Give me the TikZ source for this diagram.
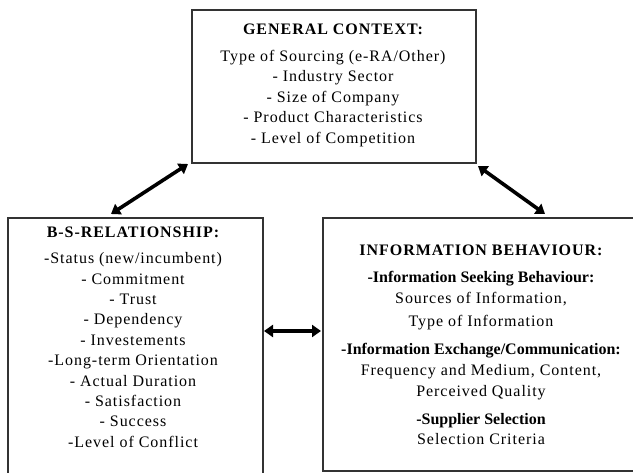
\documentclass[tikz,border=0pt]{standalone}
\usepackage{fontspec}
\setmainfont{Liberation Serif}[LetterSpace=6]
\newfontfamily\subbold{Liberation Serif}[LetterSpace=0]
\usetikzlibrary{arrows.meta}
\begin{document}
\begin{tikzpicture}[x=1pt,y=-1pt,
  box/.style={draw=black!80,line width=1.3pt,fill=none,inner sep=0pt},
  txt/.style={anchor=base,inner sep=0pt,font=\fontsize{16}{18}\selectfont},
  ttl/.style={txt,font=\fontsize{16}{18}\selectfont\bfseries},
  sub/.style={txt,font=\fontsize{16}{18}\subbold\bfseries},
  dbl/.style={line width=3.6pt,{Triangle[length=9pt,width=12pt]}-{Triangle[length=9pt,width=12pt]}}]
\useasboundingbox (0,0) rectangle (633,473);
\clip (0,0) rectangle (633,473);
% boxes
\node[box,minimum width=284pt,minimum height=153pt] (gc) at (334,86.5) {};
\node[box,minimum width=255pt,minimum height=280pt] (bs) at (135.5,358) {};
\node[box,minimum width=330pt,minimum height=253pt] (ib) at (488,344.5) {};
% top box text
\node[ttl] (gc0) at (333,35) {GENERAL CONTEXT:};
\node[txt] (gc1) at (333,62) {Type of Sourcing (e-RA/Other)};
\node[txt] (gc2) at (333,82) {- Industry Sector};
\node[txt] (gc3) at (333,102.5) {- Size of Company};
\node[txt] (gc4) at (333,123) {- Product Characteristics};
\node[txt] (gc5) at (333,143.5) {- Level of Competition};
% left box text
\node[ttl] (bs0) at (133,238) {B-S-RELATIONSHIP:};
\node[txt] (bs1) at (133,264) {-Status (new/incumbent)};
\node[txt] (bs2) at (133,284.5) {- Commitment};
\node[txt] (bs3) at (133,305) {- Trust};
\node[txt] (bs4) at (133,325) {- Dependency};
\node[txt] (bs5) at (133,345.5) {- Investements};
\node[txt] (bs6) at (133,366) {-Long-term Orientation};
\node[txt] (bs7) at (133,386.5) {- Actual Duration};
\node[txt] (bs8) at (133,407) {- Satisfaction};
\node[txt] (bs9) at (133,427) {- Success};
\node[txt] (bs10) at (133,447.5) {-Level of Conflict};
% right box text
\node[ttl] (ib0) at (481,256) {INFORMATION BEHAVIOUR:};
\node[sub] (ib1) at (481,283) {-Information Seeking Behaviour:};
\node[txt] (ib2) at (481,303.5) {Sources of Information,};
\node[txt] (ib3) at (481,327) {Type of Information};
\node[sub] (ib4) at (481,355) {-Information Exchange/Communication:};
\node[txt] (ib5) at (481,375.5) {Frequency and Medium, Content,};
\node[txt] (ib6) at (481,397) {Perceived Quality};
\node[sub] (ib7) at (481,425) {-Supplier Selection};
\node[txt] (ib8) at (481,445) {Selection Criteria};
% arrows
\coordinate (a1s) at (188,164);
\coordinate (a1e) at (111,214);
\coordinate (a2s) at (478,166);
\coordinate (a2e) at (545,214);
\coordinate (a3s) at (264,331);
\coordinate (a3e) at (321,331);
\draw[dbl] (a1s) -- (a1e);
\draw[dbl] (a2s) -- (a2e);
\draw[dbl] (a3s) -- (a3e);
\end{tikzpicture}
\end{document}
